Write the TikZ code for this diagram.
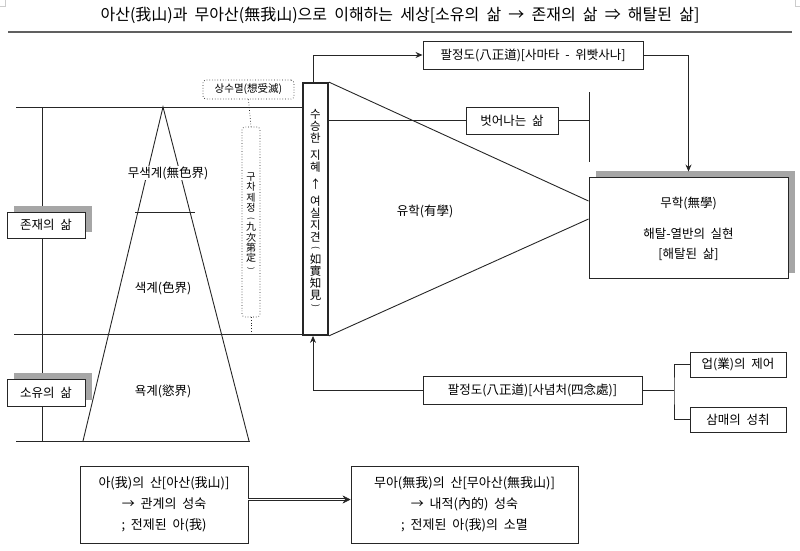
\documentclass[tikz,border=0pt]{standalone}
\usepackage{fontspec}
\setmainfont{Noto Sans CJK KR}[WordSpace=2]
\usepackage{graphicx}
\usetikzlibrary{arrows.meta,shadows}
\newcommand\fs{\fontsize{12.5}{15}\selectfont}
\newcommand\vfnt[2]{\fontsize{#1}{#2}\selectfont\lineskiplimit=-100pt\relax}
\newcommand\rp[1]{\rotatebox[origin=c]{-90}{\scalebox{0.75}{#1}}}
\definecolor{shadowc}{gray}{0.65}
\definecolor{linec}{gray}{0.15}
\tikzset{
  ln/.style={draw=linec, line width=0.9pt},
  box/.style={draw=linec, line width=0.9pt, fill=white, inner sep=0pt, font=\fs, align=center},
  shbox/.style={box, drop shadow={shadow xshift=7pt, shadow yshift=6pt, opacity=1, fill=shadowc}},
  dotbox/.style={draw=linec, line width=0.7pt, dotted, rounded corners=3pt, fill=white, inner sep=0pt, align=center},
  lbl/.style={fill=white, inner sep=1pt, font=\fs},
  arr/.style={-{Stealth[length=7pt,width=6pt]}},
}
\begin{document}
\begin{tikzpicture}[x=1pt,y=-1pt]
\useasboundingbox (0,0) rectangle (800,551);
% crop marks
\draw[gray!40, line width=0.6pt] (5,0) -- (5,6) -- (0,6);
\draw[gray!40, line width=0.6pt] (795,0) -- (795,6) -- (800,6);
% title
\node[font=\fontsize{16}{18}\selectfont] (title) at (400,15) {아산(我山)과 무아산(無我山)으로 이해하는 세상[소유의 삶 → 존재의 삶 ⇒ 해탈된 삶]};
\coordinate (rl) at (8,32);
\coordinate (rr) at (792,32);
\draw[gray!75!black, line width=2pt] (rl) -- (rr);

% big vertical box
\node[box, line width=1.8pt, minimum width=25, minimum height=252, font={\vfnt{11.5}{12}}] (wis) at (315.5,209)
  {수\\승\\한\\[5pt]지\\혜\\[5pt]↑\\[5pt]여\\실\\지\\견\\[-2pt]\rp{(}\\如\\實\\知\\見\\[-2pt]\rp{)}};

% left structure
\coordinate (va) at (42,107);
\coordinate (vb) at (42,441);
\draw[ln] (va) -- (vb);
\coordinate (h1) at (16,107);
\coordinate (h2) at (14,334);
\coordinate (h3a) at (16,441);
\coordinate (h3b) at (250,441);
\draw[ln] (h1) -- (wis.west |- h1);
\draw[ln] (h2) -- (wis.west |- h2);
\draw[ln] (h3a) -- (h3b);
% pyramid
\coordinate (apex) at (163,107);
\coordinate (bl) at (83,441);
\coordinate (br) at (249,441);
\draw[ln] (bl) -- (apex) -- (br);
\coordinate (ma) at (135,212);
\coordinate (mb) at (195,212);
\draw[ln] (ma) -- (mb);
\node[lbl] (mu) at (168,173) {무색계(無色界)};
\node[lbl] (sa) at (163,288) {색계(色界)};
\node[lbl] (yo) at (163,391) {욕계(慾界)};

% left boxes
\node[shbox, minimum width=78, minimum height=26] (jon) at (46,225) {존재의 삶};
\node[shbox, minimum width=78, minimum height=27] (soy) at (46,392.5) {소유의 삶};

% dotted boxes
\node[dotbox, minimum width=91, minimum height=19, font=\fontsize{10.5}{12}\selectfont] (sang) at (248.5,89.5) {상수멸(想受滅)};
\node[dotbox, minimum width=18, minimum height=190, font={\vfnt{10}{10.3}}] (gu) at (251,222)
  {구\\차\\제\\정\\[-1pt]\rp{(}\\九\\次\\第\\定\\[-1pt]\rp{)}};
\coordinate (gend) at (251,334);
\draw[linec, line width=0.7pt, dotted] (sang.south) -- (gu.north);
\draw[linec, line width=0.7pt, dotted] (gu.south) -- (gend);

% right side
\node[box, minimum width=220, minimum height=28] (p1) at (533,55) {팔정도(八正道)[사마타 - 위빳사나]};
\node[box, minimum width=92, minimum height=27] (esc) at (512,120.5) {벗어나는 삶};
\node[shbox, drop shadow={shadow xshift=7pt, shadow yshift=5pt, opacity=1, fill=shadowc}, minimum width=199, minimum height=101] (muh) at (688.5,227.5) {};
\node[font=\fs] (muh1) at (688.5,203) {무학(無學)};
\node[font=\fs] (muh2) at (688.5,234) {해탈-열반의 실현};
\node[font=\fs] (muh3) at (688.5,254) {[해탈된 삶]};
\node[box, minimum width=219, minimum height=28] (p2) at (532.5,390) {팔정도(八正道)[사념처(四念處)]};
\node[box, minimum width=96, minimum height=25] (kar) at (738,364.5) {업(業)의 제어};
\node[box, minimum width=96, minimum height=25] (sam) at (738,419.5) {삼매의 성취};
\node[font=\fs] (yu) at (425,211) {유학(有學)};

% connectors
\draw[ln, arr] ([xshift=-2.5pt]wis.north) |- (p1.west);
\draw[ln, arr] (p1.east) -| ([yshift=5pt]muh.north);
\draw[ln] (wis.east |- esc.west) -- (esc.west);
\coordinate (vt) at (589,92);
\coordinate (vbt) at (589,162);
\draw[ln] (esc.east) -- (esc.east -| vt);
\draw[ln] (vt) -- (vbt);
\draw[ln] (wis.north east) -- ([yshift=26.5pt]muh.west);
\draw[ln] (wis.south east) -- ([yshift=8.5pt]muh.west);
\draw[ln, arr] (p2.west) -| ([xshift=-2.5pt]wis.south);
\coordinate (jn) at (674,390);
\draw[ln] (p2.east) -- (jn);
\draw[ln] (kar.west) -| (jn) |- (sam.west);

% bottom boxes
\node[box, minimum width=168, minimum height=77, font=\fontsize{13}{21}\selectfont] (bl1) at (164,504.5) {아(我)의 산[아산(我山)]\\→ 관계의 성숙\\; 전제된 아(我)};
\node[box, minimum width=227, minimum height=77, font=\fontsize{13}{21}\selectfont] (br1) at (464.5,504.5) {무아(無我)의 산[무아산(無我山)]\\→ 내적(內的) 성숙\\; 전제된 아(我)의 소멸};
\draw[linec, double=white, double distance=1.6pt, line width=0.8pt, shorten >=5pt] ([yshift=5pt]bl1.east) -- ([yshift=5pt]br1.west);
\draw[linec, line width=0.5pt, -{Stealth[length=8pt,width=8pt]}] ([yshift=5pt,xshift=-6pt]br1.west) -- ([yshift=5pt]br1.west);
\end{tikzpicture}
\end{document}
